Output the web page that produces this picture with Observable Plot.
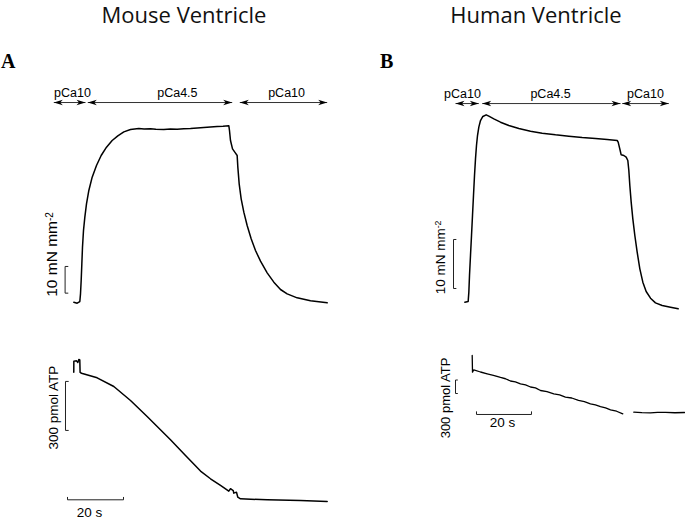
<!DOCTYPE html>
<html>
<head>
<meta charset="utf-8">
<script src="https://cdn.jsdelivr.net/npm/d3@7"></script>
<script src="https://cdn.jsdelivr.net/npm/@observablehq/plot@0.6"></script>
<style>
  html, body { margin: 0; padding: 0; background: white; }
  #fig { position: relative; width: 685px; height: 520px; background: white; overflow: hidden; }
  .title { position: absolute; top: 2.5px; font-family: "Open Sans", sans-serif; font-size: 22px; line-height: 1; white-space: nowrap; transform: translateX(-50%); color: #111; }
  .panel { position: absolute; top: 51.3px; font-family: "Liberation Serif", "Times New Roman", serif; font-weight: bold; font-size: 20px; line-height: 1; color: #000; }
</style>
</head>
<body>
<div id="fig">
  <div class="title" style="left:184px">Mouse Ventricle</div>
  <div class="title" style="left:536px">Human Ventricle</div>
  <div class="panel" style="left:1px">A</div>
  <div class="panel" style="left:380px">B</div>
</div>
<script>
// ---------------- DATA ----------------
// Panel A (mouse): force trace, time in s, force in mN mm^-2
const forceA_t = [0.12,1.31,2.26,2.5,2.74,2.98,3.21,3.57,4.05,4.64,5.48,6.67,8.21,9.88,11.79,13.81,15.83,17.98,20.36,23.33,25.2,27.5,29.4,32.26,34.6,37.02,39.4,41.79,44.2,46.55,48.9,51.31,53.4,55.48,55.71,56.07,56.79,57.86,58.45,58.69,59.17,59.88,60.83,62.02,63.45,65.0,66.79,69.17,71.55,73.93,76.31,79.88,84.64,90.6];
const forceA_v = [0.12,-0.25,0.37,3.25,8.24,14.48,20.72,26.97,31.96,36.95,41.95,46.94,51.31,55.06,58.18,60.67,62.42,63.92,64.79,65.17,65.0,65.04,64.85,64.79,64.95,64.92,65.05,65.17,65.35,65.54,65.7,65.92,66.0,66.17,64.42,60.67,57.55,55.93,55.06,50.69,44.44,38.83,33.83,28.84,23.85,19.48,15.48,11.11,7.61,4.87,3.25,1.75,0.62,-0.12];
// Panel A: ATP trace, pmol
const atpA_t = [0.1,0.12,1.07,1.54,1.9,2.25,2.36,2.86,8.45,14.4,20.36,26.3,34.64,40.0,45.36,48.93,52.5,55.46,56.07,57.04,57.25,58.21,58.68,59.64,69.18,81.07,90.6];
const atpA_v = [785,853,855,845,863,860,784,779,751,698,612,514,372,275,180,133,92,57,72,61,45,51,20,10,4,0,-6];

// Panel B (human): force trace
const forceB_t = [0.12,1.33,1.58,1.82,2.18,2.55,2.91,3.27,3.64,4.0,4.36,4.73,5.21,5.82,6.67,7.88,8.85,10.67,13.09,16.12,19.76,24.0,28.24,33.09,37.94,42.79,47.64,51.88,55.52,55.88,56.12,56.61,56.97,57.94,58.79,59.39,59.76,60.12,60.61,61.21,61.94,62.79,63.76,64.85,66.06,67.64,69.45,71.88,74.91,77.7];
const forceB_v = [0.07,0.2,2.11,5.51,9.59,13.67,17.76,21.84,25.92,29.32,32.04,34.08,35.78,37.14,37.96,38.3,38.03,37.48,36.8,36.12,35.51,34.97,34.56,34.22,33.95,33.67,33.47,33.27,33.06,32.72,32.18,31.02,30.14,30.0,29.66,28.98,26.94,23.88,20.48,17.08,13.67,10.27,6.87,4.15,2.24,0.88,-0.07,-0.61,-0.95,-1.29];
// Panel B: ATP trace (two recorded segments)
const atpB1_t = [2.8,2.91,3.38,5.82,8.25,10.5,13.1,14.9,16.7,18.5,20.36,22.2,24.0,25.8,27.64,30.0,32.47,34.6,36.7,39.0,41.45,43.6,45.8,47.6,49.45,51.3,53.1,55.3,57.56];
const atpB1_v = [1267,896,949,900,860,824,778,750,700,682,638,612,567,548,489,466,416,392,344,322,267,243,193,170,133,102,60,28,-29];
const atpB2_t = [61.56,64.5,67.6,70.2,73.1,76.5,80];
const atpB2_v = [7,-4,-7,5,4,-6,0];

// Solution phases (arrow intervals, s) and labels
const phaseA_from = [-7.04, 5.1, 59.39];
const phaseA_to   = [4.29, 56.68, 90.6];
const phaseA_labelT = [-0.36, 37.1, 76.1];
const phaseB_from = [-3.27, 6.44, 57.35];
const phaseB_to   = [5.2, 56.73, 74.3];
const phaseB_labelT = [-0.73, 31.3, 65.8];
const phaseLabels = ["pCa10", "pCa4.5", "pCa10"];

// Scale bars
const barForce = 10;   // mN mm^-2
const barATP = 300;    // pmol
const barTime = 20;    // s
const forceLabel = "10 mN mm⁻²";
const atpLabel = "300 pmol ATP";
const timeLabel = "20 s";

// ---------------- BUILD ----------------
const zip = (ts, vs) => ts.map((t, i) => ({t, v: vs[i]}));
const phases = (from, to, lt) => from.map((f, i) => ({from: f, to: to[i], lt: lt[i], label: phaseLabels[i]}));

const headRight = {draw(c) { c.moveTo(0, 0); c.lineTo(-9, -2.8); c.lineTo(-6.5, 0); c.lineTo(-9, 2.8); c.closePath(); }};
const headLeft  = {draw(c) { c.moveTo(0, 0); c.lineTo(9, -2.8); c.lineTo(6.5, 0); c.lineTo(9, 2.8); c.closePath(); }};
const SANS = "Liberation Sans, Arial, Helvetica, sans-serif";

function bracketV(t, v0, len, tick) { // vertical bar with small ticks to the right
  return [{t: t + tick, v: v0}, {t, v: v0}, {t, v: v0 + len}, {t: t + tick, v: v0 + len}];
}
function bracketH(t0, len, v, tick) { // horizontal bar with small ticks upward
  return [{t: t0, v: v + tick}, {t: t0, v}, {t: t0 + len, v}, {t: t0 + len, v: v + tick}];
}

function layer(xr, yr, ydom, marks) {
  const svg = Plot.plot({
    width: 685, height: 520, margin: 0,
    x: {domain: [0, 100], range: xr, axis: null},
    y: {domain: ydom, range: yr, axis: null},
    marks
  });
  svg.style.position = "absolute";
  svg.style.left = "0px";
  svg.style.top = "0px";
  svg.style.background = "transparent";
  svg.style.overflow = "visible";
  // render the superscript of the unit as a real raised tspan
  svg.querySelectorAll("text").forEach(el => {
    const s = el.textContent;
    if (s.endsWith("⁻²")) {
      el.textContent = s.slice(0, -2);
      const ts = document.createElementNS("http://www.w3.org/2000/svg", "tspan");
      ts.setAttribute("dy", "-0.45em");
      ts.setAttribute("font-size", "0.65em");
      ts.textContent = "-2";
      el.appendChild(ts);
    }
  });
  return svg;
}

function arrowMarks(ph, ya, yl) {
  return [
    Plot.link(ph, {x1: "from", x2: "to", y1: ya, y2: ya, stroke: "#333", strokeWidth: 1}),
    Plot.dot(ph, {x: "to", y: ya, symbol: headRight, r: 4, fill: "black", stroke: null}),
    Plot.dot(ph, {x: "from", y: ya, symbol: headLeft, r: 4, fill: "black", stroke: null}),
    Plot.text(ph, {x: "lt", y: yl, text: "label", fontSize: 12.5, fontFamily: SANS, lineAnchor: "bottom", fill: "black"})
  ];
}

const fig = document.getElementById("fig");

// Panel A force
fig.appendChild(layer([73, 353], [302, 275.3], [0, 10], [
  Plot.line(zip(forceA_t, forceA_v), {x: "t", y: "v", stroke: "black", strokeWidth: 1.5}),
  ...arrowMarks(phases(phaseA_from, phaseA_to, phaseA_labelT), 74.9, 76.9),
  Plot.line(bracketV(-3.0, 3.5, barForce, 1.0), {x: "t", y: "v", stroke: "#222", strokeWidth: 1}),
  Plot.text([forceLabel], {x: -7.6, y: 18, text: d => d, rotate: -90, textAnchor: "middle", lineAnchor: "middle", fontSize: 15.5, fontFamily: SANS, fill: "black"})
]));

// Panel A ATP
fig.appendChild(layer([73, 353], [500, 451], [0, 300], [
  Plot.line(zip(atpA_t, atpA_v), {x: "t", y: "v", stroke: "black", strokeWidth: 1.5}),
  Plot.line(bracketV(-2.86, 429, barATP, 1.0), {x: "t", y: "v", stroke: "#222", strokeWidth: 1}),
  Plot.line(bracketH(-2.14, barTime, 4.3, 15), {x: "t", y: "v", stroke: "#222", strokeWidth: 1}),
  Plot.text([atpLabel], {x: -7.14, y: 569, text: d => d, rotate: -90, textAnchor: "middle", lineAnchor: "middle", fontSize: 13.5, fontFamily: SANS, fill: "black"}),
  Plot.text([timeLabel], {x: 5.7, y: -104, text: d => d, textAnchor: "middle", lineAnchor: "bottom", fontSize: 13.5, fontFamily: SANS, fill: "black"})
]));

// Panel B force
fig.appendChild(layer([464, 739], [302, 253], [0, 10], [
  Plot.line(zip(forceB_t, forceB_v), {x: "t", y: "v", stroke: "black", strokeWidth: 1.5}),
  ...arrowMarks(phases(phaseB_from, phaseB_to, phaseB_labelT), 40.6, 41.8),
  Plot.line(bracketV(-4.0, 2.86, barForce, 0.9), {x: "t", y: "v", stroke: "#222", strokeWidth: 1}),
  Plot.text([forceLabel], {x: -8.7, y: 9.2, text: d => d, rotate: -90, textAnchor: "middle", lineAnchor: "middle", fontSize: 13.5, fontFamily: SANS, fill: "black"})
]));

// Panel B ATP
fig.appendChild(layer([464, 739], [412, 398.5], [0, 300], [
  Plot.line(zip(atpB1_t, atpB1_v), {x: "t", y: "v", stroke: "black", strokeWidth: 1.3}),
  Plot.line(zip(atpB2_t, atpB2_v), {x: "t", y: "v", stroke: "black", strokeWidth: 1.3}),
  Plot.line(bracketV(-3.27, 422, barATP, 0.7), {x: "t", y: "v", stroke: "#222", strokeWidth: 1}),
  Plot.line(bracketH(4.36, barTime, -44, 60), {x: "t", y: "v", stroke: "#222", strokeWidth: 1}),
  Plot.text([atpLabel], {x: -6.9, y: 322, text: d => d, rotate: -90, textAnchor: "middle", lineAnchor: "middle", fontSize: 13, fontFamily: SANS, fill: "black"}),
  Plot.text([timeLabel], {x: 13.8, y: -333, text: d => d, textAnchor: "middle", lineAnchor: "bottom", fontSize: 13.5, fontFamily: SANS, fill: "black"})
]));
</script>
</body>
</html>
